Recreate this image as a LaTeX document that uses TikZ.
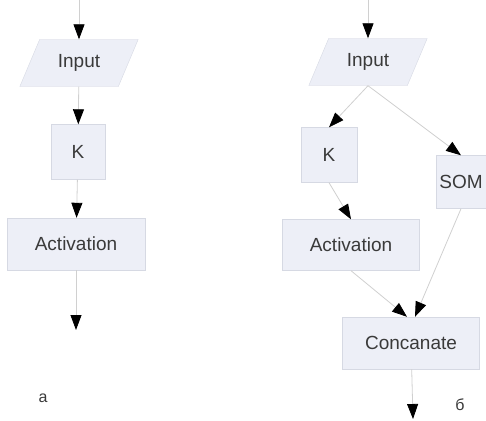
\documentclass[tikz,border=0pt]{standalone}
\usepackage{fontspec}
\setmainfont{Liberation Sans}
\usetikzlibrary{shapes.geometric,arrows.meta}
\definecolor{boxfill}{HTML}{EDEFF7}
\definecolor{boxline}{HTML}{D6D9E3}
\definecolor{wire}{HTML}{D0D0D0}
\definecolor{ink}{HTML}{3A3A3A}
\tikzset{
  block/.style={draw=boxline,fill=boxfill,inner sep=2pt,text=ink,font=\fontsize{19}{22}\selectfont},
  io/.style={block,trapezium,trapezium left angle=61,trapezium right angle=119,trapezium stretches=true,minimum width=119pt,minimum height=47pt},
  flow/.style={draw=wire,line width=0.8pt,-{Triangle[length=15pt,width=11pt,color=black]}},
  tag/.style={text=ink,font=\fontsize{16}{19}\selectfont}
}
\begin{document}
\begin{tikzpicture}[x=1pt,y=-1pt]
\useasboundingbox (0,0) rectangle (486,420);
% a: plain chain
\coordinate (a-top) at (79,0);
\node[io] (a-in) at (79,63) {Input};
\node[block,minimum width=54pt,minimum height=55pt] (a-k) at (78,152) {K};
\node[block,minimum width=138pt,minimum height=52pt] (a-act) at (76,244) {Activation};
\coordinate (a-out) at (76,330);
\node[tag] (a-lbl) at (43,398) {a};
\draw[flow] (a-top) -- (a-in);
\draw[flow] (a-in) -- (a-k);
\draw[flow] (a-k) -- (a-act);
\draw[flow] (a-act) -- (a-out);

% b: K branch and SOM branch joined
\coordinate (b-top) at (368,0);
\node[io] (b-in) at (368,62) {Input};
\node[block,minimum width=56pt,minimum height=55pt] (b-k) at (329,155) {K};
\node[block,minimum width=50pt,minimum height=53pt] (b-som) at (461,182) {SOM};
\node[block,minimum width=137pt,minimum height=51pt] (b-act) at (351,245) {Activation};
\node[block,minimum width=137pt,minimum height=52pt] (b-cat) at (411,343) {Concanate};
\coordinate (b-out) at (413,419);
\node[tag] (b-lbl) at (460,405) {б};
\draw[flow] (b-top) -- (b-in);
\draw[flow] (b-in.south) -- (b-k.north);
\draw[flow] (b-in.south) -- (b-som.north);
\draw[flow] (b-k.south) -- (b-act.north);
\draw[flow] (b-act.south) -- ([xshift=-4pt]b-cat.north);
\draw[flow] (b-som.south) -- ([xshift=4pt]b-cat.north);
\draw[flow] (b-cat) -- (b-out);
\end{tikzpicture}
\end{document}
